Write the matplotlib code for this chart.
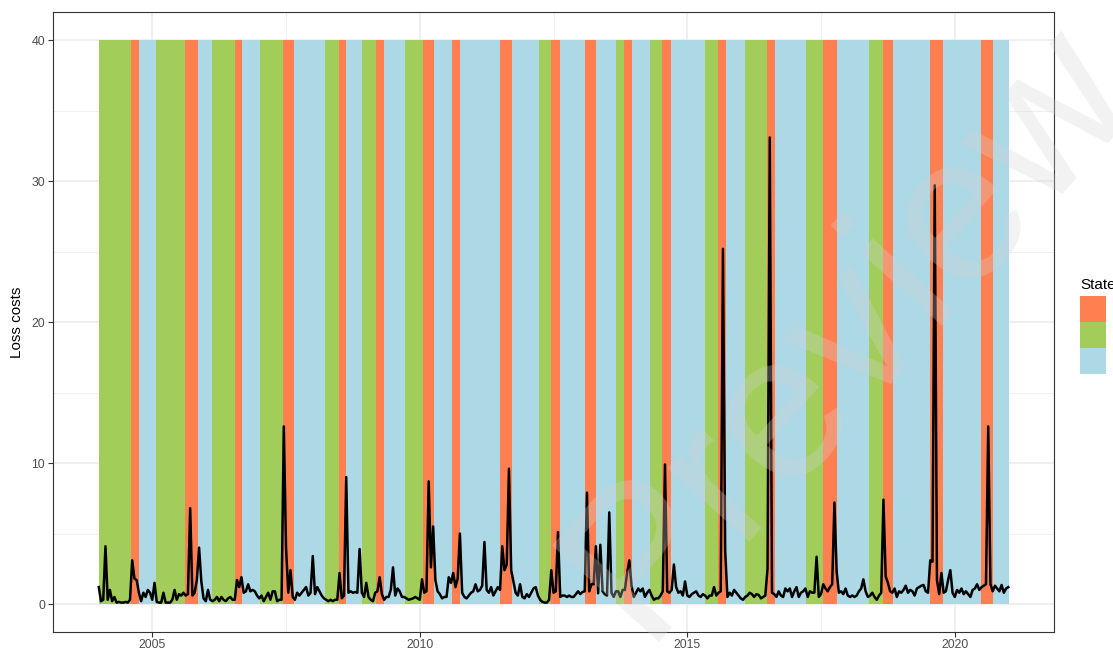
import matplotlib
matplotlib.use('Agg')
import matplotlib.pyplot as plt
from matplotlib.patches import Rectangle
import numpy as np

# ---- data ----
start_year = 2004.0
steps_per_year = 24
loss_costs = [
    1.2, 0.2, 0.3, 4.1, 0.3, 1.0, 0.2, 0.5, 0.1, 0.15,
    0.1, 0.1, 0.15, 0.1, 0.3, 3.1, 1.8, 1.7, 0.8, 0.2,
    0.8, 0.5, 1.0, 0.8, 0.3, 1.5, 0.15, 0.1, 0.1, 0.8,
    0.1, 0.1, 0.1, 0.3, 1.0, 0.3, 0.7, 0.6, 0.8, 0.6,
    0.7, 6.8, 0.6, 0.8, 1.7, 4.0, 1.6, 0.4, 0.2, 1.0,
    0.3, 0.2, 0.3, 0.5, 0.2, 0.5, 0.3, 0.2, 0.4, 0.5,
    0.3, 0.3, 1.7, 1.2, 1.9, 0.8, 0.9, 1.4, 0.9, 1.0,
    0.9, 0.6, 0.4, 0.6, 0.2, 0.5, 0.8, 0.3, 0.9, 0.9,
    0.2, 0.3, 0.3, 12.6, 4.0, 0.8, 2.4, 0.5, 0.3, 0.8,
    0.6, 0.8, 1.0, 1.2, 0.6, 0.8, 3.4, 0.7, 1.2, 0.9,
    0.6, 0.4, 0.3, 0.2, 0.3, 0.2, 0.3, 0.3, 2.2, 0.4,
    0.6, 9.0, 0.8, 0.9, 0.8, 0.85, 0.8, 3.9, 0.8, 0.5,
    1.5, 0.5, 0.3, 0.2, 0.8, 0.9, 1.9, 0.7, 0.3, 0.5,
    0.5, 1.0, 2.6, 0.6, 1.1, 0.9, 0.5, 0.5, 0.4, 0.3,
    0.35, 0.4, 0.5, 0.4, 0.3, 1.75, 0.8, 0.9, 8.7, 2.6,
    5.5, 1.7, 0.9, 0.7, 0.4, 0.5, 0.5, 1.9, 1.5, 2.2,
    1.2, 1.8, 5.0, 0.8, 0.5, 0.4, 0.6, 0.8, 0.9, 1.4,
    0.9, 1.0, 1.3, 4.4, 1.0, 0.8, 1.2, 0.6, 0.9, 1.2,
    1.0, 4.1, 2.4, 2.8, 9.6, 2.4, 1.6, 0.8, 0.6, 1.4,
    0.5, 0.4, 0.7, 0.5, 0.8, 1.1, 1.2, 0.6, 0.3, 0.15,
    0.1, 0.1, 0.3, 2.4, 0.8, 0.9, 5.1, 0.5, 0.6, 0.6,
    0.5, 0.6, 0.5, 0.5, 0.7, 0.9, 0.7, 0.85, 0.9, 7.9,
    0.9, 1.4, 1.4, 4.1, 0.76, 4.2, 0.9, 0.7, 0.6, 6.5,
    0.8, 0.5, 0.9, 0.9, 0.5, 1.0, 1.0, 2.2, 3.1, 1.3,
    0.5, 0.8, 1.1, 0.9, 1.1, 0.5, 0.8, 1.0, 0.6, 0.3,
    0.4, 0.4, 0.6, 0.9, 9.9, 0.9, 0.8, 1.0, 2.8, 1.2,
    0.8, 0.9, 0.6, 1.6, 0.6, 0.5, 0.7, 0.8, 0.9, 0.6,
    0.5, 0.7, 0.6, 0.4, 0.6, 0.6, 1.2, 0.6, 0.8, 0.9,
    25.2, 3.8, 0.5, 0.8, 0.6, 1.0, 0.8, 0.6, 0.4, 0.3,
    0.5, 0.6, 0.8, 0.7, 0.5, 0.7, 0.65, 0.4, 0.5, 0.6,
    2.5, 33.1, 0.8, 0.7, 0.5, 0.9, 0.6, 0.5, 1.1, 0.9,
    1.1, 0.5, 0.9, 1.2, 0.5, 0.8, 0.9, 1.1, 0.5, 0.9,
    0.8, 0.8, 3.35, 0.5, 0.7, 1.4, 1.1, 0.9, 1.2, 1.4,
    7.2, 2.3, 0.8, 0.9, 0.7, 1.1, 0.6, 0.5, 0.6, 0.5,
    0.6, 0.9, 1.1, 1.75, 0.9, 0.5, 0.6, 0.8, 0.5, 0.3,
    0.6, 0.8, 7.4, 1.95, 1.5, 0.9, 0.8, 1.1, 0.5, 0.9,
    0.8, 1.0, 1.3, 0.8, 1.0, 0.9, 0.6, 1.1, 1.2, 1.3,
    1.35, 0.9, 0.8, 3.1, 3.0, 29.7, 1.7, 0.7, 2.2, 0.8,
    0.9, 1.7, 2.4, 0.8, 0.5, 1.0, 0.8, 1.1, 0.7, 0.9,
    0.7, 0.5, 1.0, 1.1, 1.4, 1.0, 1.2, 1.3, 1.4, 12.6,
    1.4, 0.9, 1.3, 1.1, 0.9, 1.35, 0.8, 1.1, 1.2,
]

band_edges = [2004.0, 2004.60, 2004.75, 2005.07, 2005.61, 2005.85, 2006.12,
              2006.55, 2006.68, 2007.01, 2007.44, 2007.65, 2008.23, 2008.49,
              2008.62, 2008.92, 2009.18, 2009.33, 2009.72, 2010.06, 2010.27,
              2010.60, 2010.75, 2011.50, 2011.73, 2012.23, 2012.46, 2012.63,
              2013.09, 2013.30, 2013.66, 2013.81, 2013.97, 2014.31, 2014.53,
              2014.70, 2015.34, 2015.58, 2015.73, 2016.08, 2016.49, 2016.64,
              2017.22, 2017.54, 2017.80, 2018.40, 2018.66, 2018.85, 2019.54,
              2019.78, 2020.49, 2020.71, 2021.01]
band_states = list("GOBGOBGOBGOBGOBGOBGOBOBOBGOBOBGOBGOBGOBGOBGOBGOBOBOB")
band_top = 40

state_order = ["O", "G", "B"]
state_colors = {"O": "#FF7F50", "G": "#A2CD5A", "B": "#ADD8E6"}

x_ticks = [2005, 2010, 2015, 2020]
x_minor = [2007.5, 2012.5, 2017.5]
y_ticks = [0, 10, 20, 30, 40]
y_minor = [5, 15, 25, 35]

# ---- figure ----
plt.rcParams['font.family'] = ['Liberation Sans', 'DejaVu Sans']
W, H = 1113, 650
fig = plt.figure(figsize=(W / 100, H / 100), dpi=100)
L, R, T, B = 53.3, 1054.3, 12.0, 632.2
ax = fig.add_axes([L / W, 1 - B / H, (R - L) / W, (B - T) / H])

# bands
starts = np.array(band_edges[:-1])
widths = np.diff(band_edges)
cols = [state_colors[s] for s in band_states]
ax.bar(starts, [band_top] * len(starts), width=widths, bottom=0, align='edge',
       color=cols, linewidth=0, zorder=2)

# series
x = start_year + np.arange(len(loss_costs)) / steps_per_year
ax.plot(x, loss_costs, color='black', lw=1.8, zorder=3, solid_joinstyle='round')

ax.set_xlim(2003.15, 2021.86)
ax.set_ylim(-2, 42)
ax.set_xticks(x_ticks)
ax.set_xticklabels([str(t) for t in x_ticks])
ax.set_xticks(x_minor, minor=True)
ax.set_yticks(y_ticks)
ax.set_yticks(y_minor, minor=True)

ax.grid(which='major', color='#EBEBEB', lw=1.1, zorder=0)
ax.grid(which='minor', color='#EBEBEB', lw=0.55, zorder=0)
ax.set_axisbelow(True)
ax.tick_params(which='major', length=3.8, width=0.8, color='#333333',
               labelsize=8.8, labelcolor='#4D4D4D', pad=2.2)
ax.tick_params(axis='x', which='major', pad=1.2)
ax.tick_params(which='minor', length=0)
for sp in ax.spines.values():
    sp.set_color('#333333')
    sp.set_linewidth(0.8)
    sp.set_zorder(5)

ax.set_ylabel('Loss costs', fontsize=11, color='black')
ax.yaxis.set_label_coords((24 - L) / (R - L), 0.5)

# legend (keys only; labels fall outside the canvas)
fig.text(1080 / W, 1 - 289 / H, 'State', fontsize=11, ha='left', va='baseline')
key_w, key_h = 26, 26
for k, s in enumerate(state_order):
    y0 = 296 + k * key_h
    fig.add_artist(Rectangle((1080 / W, 1 - (y0 + key_h) / H), key_w / W, key_h / H,
                             transform=fig.transFigure, facecolor=state_colors[s],
                             edgecolor='none'))

# watermark
fig.text(850 / W, 1 - 330 / H, 'Preview', rotation=48, fontsize=150,
         ha='center', va='center', rotation_mode='anchor',
         color='#d4d4d4', alpha=0.3, zorder=10)

fig.savefig('out.png', dpi=100)
